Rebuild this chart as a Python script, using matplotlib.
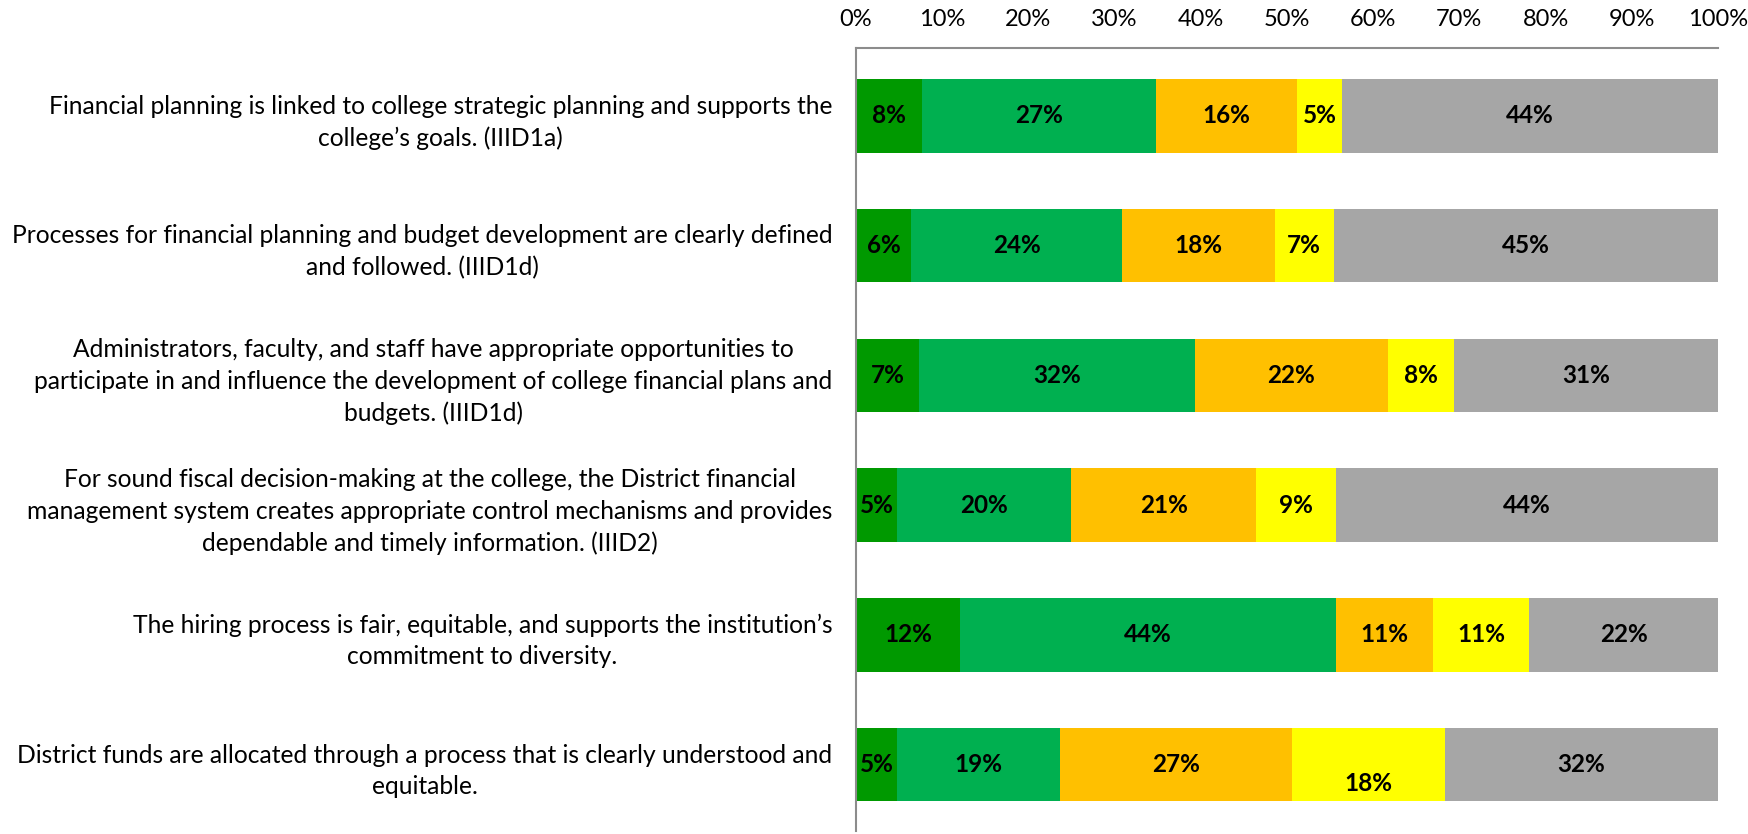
# Stacked 100% horizontal bar chart of survey agreement per statement.
import numpy as np
import matplotlib.pyplot as plt

# Statement labels, top to bottom, wrapped as in the source chart.
statements = [
    "Financial planning is linked to college strategic planning and supports the\ncollege\u2019s goals. (IIID1a)",
    "Processes for financial planning and budget development are clearly defined\nand followed. (IIID1d)",
    "Administrators, faculty, and staff have appropriate opportunities to\nparticipate in and influence the development of college financial plans and\nbudgets. (IIID1d)",
    "For sound fiscal decision-making at the college, the District financial\nmanagement system creates appropriate control mechanisms and provides\ndependable and timely information. (IIID2)",
    "The hiring process is fair, equitable, and supports the institution\u2019s\ncommitment to diversity.",
    "District funds are allocated through a process that is clearly understood and\nequitable.",
]

# Response shares (%) per statement.
strongly_agree = [7.6, 6.4, 7.3, 4.8, 12.1, 4.8]
agree = [27.2, 24.5, 32.0, 20.2, 43.6, 18.9]
disagree = [16.4, 17.7, 22.4, 21.4, 11.2, 26.9]
strongly_disagree = [5.2, 6.8, 7.7, 9.3, 11.2, 17.7]
no_opinion = [43.6, 44.6, 30.6, 44.3, 21.9, 31.7]

series = [strongly_agree, agree, disagree, strongly_disagree, no_opinion]
colors = ["#009900", "#00B050", "#FFC000", "#FFFF00", "#A6A6A6"]

font = "Lato"

fig = plt.figure(figsize=(17.48, 8.34), dpi=100)
ax = fig.add_axes([0.4897, 0.004, 0.4931, 0.9386])

y = np.arange(len(statements))
left = np.zeros(len(statements))
for si, (vals, col) in enumerate(zip(series, colors)):
    vals = np.array(vals)
    ax.barh(y, vals, left=left, height=0.567, color=col, edgecolor="none")
    for i, v in enumerate(vals):
        # the yellow label in the last row sits low in the source chart
        dy = -14 if (si == 3 and i == 5) else 0
        ax.annotate(f"{round(v)}%", (left[i] + v / 2, y[i]), xytext=(0, dy),
                    textcoords="offset points", ha="center", va="center",
                    fontsize=17.5, fontweight="bold", color="black", family=font)
    left = left + vals

ax.set_xlim(0, 100)
ax.set_ylim(len(statements) - 0.49, -0.524)
ax.xaxis.tick_top()
ax.set_xticks(np.arange(0, 101, 10))
ax.set_xticklabels([f"{t}%" for t in range(0, 101, 10)], fontsize=17, family=font)
ax.tick_params(axis="x", length=0, pad=13)
ax.set_yticks(y)
ax.set_yticklabels(statements, fontsize=17.7, family=font,
                   multialignment="center", linespacing=1.45)
ax.tick_params(axis="y", length=0, pad=17)

for side in ["right", "bottom"]:
    ax.spines[side].set_visible(False)
for side in ["top", "left"]:
    ax.spines[side].set_color("#8C8C8C")
    ax.spines[side].set_linewidth(1.5)

fig.savefig("out.png", dpi=100)
plt.close(fig)
